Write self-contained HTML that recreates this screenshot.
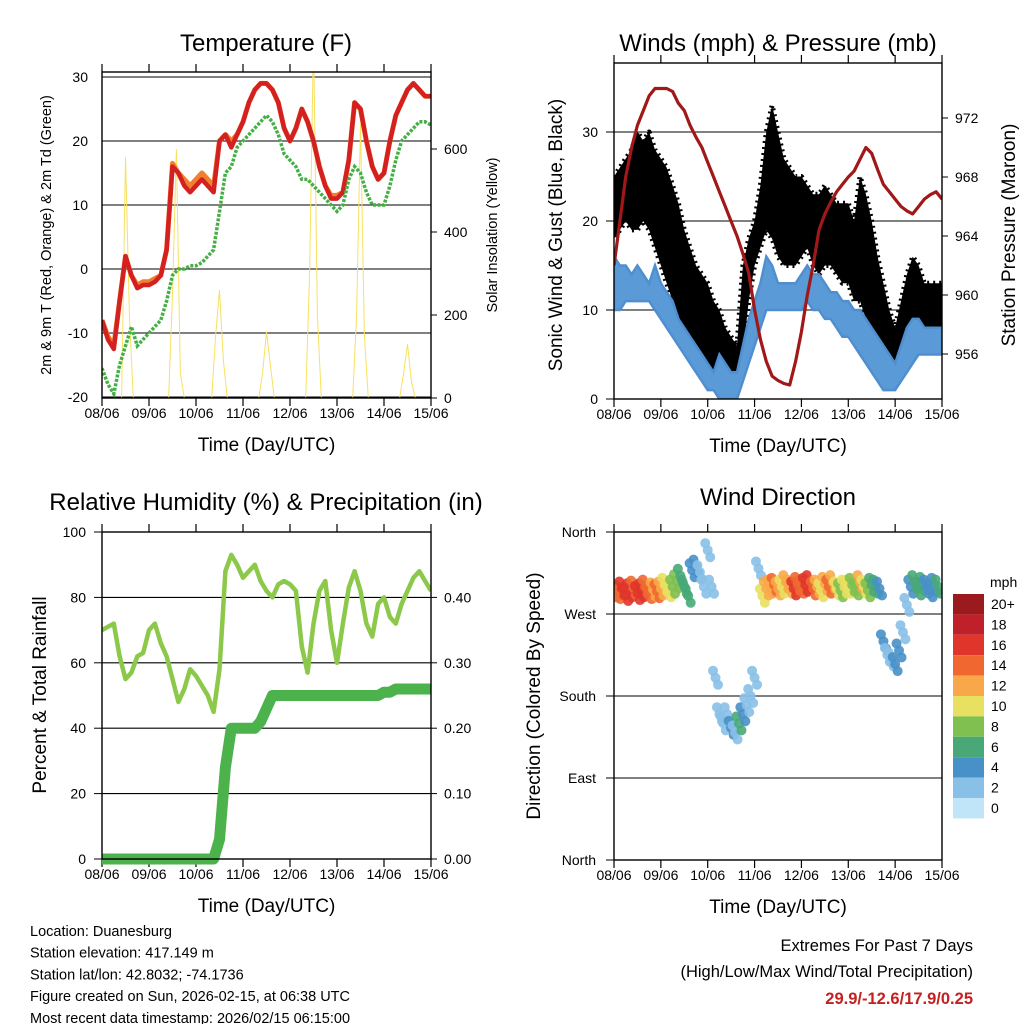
<!DOCTYPE html>
<html><head><meta charset="utf-8">
<style>
html,body{margin:0;padding:0;background:#fff;}
svg{display:block;font-family:"Liberation Sans",Arial,sans-serif;}
</style></head>
<body>
<svg id="c" width="1024" height="1024" viewBox="0 0 1024 1024" xmlns="http://www.w3.org/2000/svg">
<rect width="1024" height="1024" fill="#fff"/>
</svg>
<script>
// ---------- data (3-hour steps unless noted, hour 0 = 08/06 00UTC) ----------
const dayLabels = ["08/06","09/06","10/06","11/06","12/06","13/06","14/06","15/06"];
const tempRed = [-8,-11,-12.5,-5,2,-1,-3,-2.5, -2.5,-2,-1,3,16,15,13,12, 13,14,13,12,20,21,19,21, 23,26,28,29,29,28,26,22, 20,22,25,23,20,16,13,11, 11,12,17,26,25,20,16,14, 15,20,24,26,28,29,28,27, 27];
const tempOrange = [-8,-10.5,-12,-5,2,-1,-2.5,-2, -2,-1.5,-1,3,16.5,15,14,13, 14,15,14,13,20,21,20,21, 23,26,28,29,29,28,26,22, 20,22,25,23,20,16,13,11.5, 11.5,12,17,26,25,20,16,14, 15,20,24,26,28,29,28,27, 27];
const dewGreen = [-15.5,-18,-19.5,-15,-12,-9,-12,-11, -10,-9,-8,-5,-1,0,0,0.5, 0.5,1,2,3,9,15,16,19, 20,21,22,23,24,23,21,18, 17,16,14,14,13,12,11,10, 9,10,14,16,15,12,10,10, 10,13,17,20,21,22,23,23, 22.5];
// solar insolation, 2-hour steps
const solar = [0,0,0,0,0,0,580,200,0,0,0,0, 0,0,0,0,0,0,250,600,60,0,0,0, 0,0,0,0,0,150,260,90,0,0,0,0, 0,0,0,0,0,60,160,80,0,0,0,0, 0,0,0,0,0,300,870,200,0,0,0,0, 0,0,0,0,0,200,660,150,0,0,0,0, 0,0,0,0,0,60,130,40,0,0,0,0, 0];
const gustHi = [25,26,27,28,30,29,30,28, 27,26,24,22,19,17,15,14, 13,11,10,8,7,6,15,18, 20,24,30,33,30,27,26,25, 25,24,23,23,24,23,22,22, 22,20,25,23,20,16,13,10, 8,11,14,16,15,13,13,13, 13];
const gustLo = [18,19,20,19,19,20,19,17, 15,13,11,9,7,6,4,3, 2,1,1,1,1,2,5,11, 15,17,19,18,16,15,15,15, 16,17,15,14,15,15,14,13, 13,11,11,9,7,5,3,3, 4,6,7,8,8,7,7,7, 7];
const windHi = [16,15,15,14,15,14,13,15, 13,12,11,9,8,7,6,5, 4,3,5,4,3,3,6,9, 11,13,16,15,13,13,13,13, 14,15,14,14,13,12,12,11, 11,10,10,9,8,7,6,5, 4,6,8,9,9,8,8,8, 8];
const windLo = [10,10,11,11,11,11,11,10, 9,8,7,6,5,4,3,2, 1,1,0,0,0,0,2,4, 6,8,10,10,10,10,10,10, 10,11,10,10,9,9,8,7, 7,6,5,4,3,2,1,1, 1,2,3,4,5,5,5,5, 5];
const pressure = [962,965,968,970,971.5,972.5,973.5,974, 974,974,973.8,973,972.5,971.5,970.7,970, 969,968,967,966,965,964,962.8,961.5, 959,957,955.5,954.5,954.2,954,953.9,955.5, 957.5,960,962,964.4,965.5,966.3,967,967.5, 968,968.4,969.2,970,969.6,968.5,967.5,967, 966.5,966,965.7,965.5,966,966.5,966.8,967, 966.5];
const rh = [70,71,72,62,55,57,62,63, 70,72,66,62,55,48,52,58, 56,53,50,45,58,88,93,90, 86,88,90,85,82,80,84,85, 84,82,65,57,72,82,85,70, 60,72,83,88,82,72,68,78, 80,74,72,78,82,86,88,85, 82];
const precip = [0,0,0,0,0,0,0,0, 0,0,0,0,0,0,0,0, 0,0,0,0,0.03,0.14,0.2,0.2, 0.2,0.2,0.2,0.21,0.23,0.25,0.25,0.25, 0.25,0.25,0.25,0.25,0.25,0.25,0.25,0.25, 0.25,0.25,0.25,0.25,0.25,0.25,0.25,0.25, 0.255,0.255,0.26,0.26,0.26,0.26,0.26,0.26, 0.26];
// wind direction, 2-hour steps (degrees, 0/360 north) and speed (mph)
const dirDeg = [296,294,298,292,296,299,293,296,300,294,297,295, 298,302,296,300,306,312,300,290,318,322,316,300, 340,300,200,160,150,160,145,140,150,160,170,180, 200,320,290,298,300,302,298,300,305,300,298,303, 300,302,305,298,300,296,303,300,305,298,296,300, 300,302,298,305,300,296,302,300,298,240,225,220, 215,230,250,280,300,305,298,303,300,296,302,300];
const dirSpeed = [14,15,16,17,16,15,16,17,15,14,13,14, 12,11,10,9,8,7,6,6,5,4,3,3, 2,2,2,3,2,3,4,3,6,5,3,2, 2,3,10,12,13,14,12,11,12,13,16,15, 15,16,17,14,12,11,13,14,12,10,9,11, 10,8,9,12,11,8,7,6,5,4,3,3, 4,4,3,3,5,6,7,6,5,4,5,6];
const cbLabels = ["20+","18","16","14","12","10","8","6","4","2","0"];
const cbColors = ["#9a1a1e","#c0202a","#e0352a","#f06830","#f8a848","#e8e060","#80c050","#48a878","#4890c8","#88c0e8","#c0e4f8"];

const svg = document.getElementById('c');
const NS = "http://www.w3.org/2000/svg";
function mk(tag, attrs, parent){ const e=document.createElementNS(NS,tag); for(const k in attrs) e.setAttribute(k,attrs[k]); (parent||svg).appendChild(e); return e; }
function txt(x,y,s,size,anchor,parent,rot){ const t=mk('text',{x:x,y:y,'font-size':size,'text-anchor':anchor||'middle',fill:'#000'},parent); if(rot) t.setAttribute('transform','rotate(-90 '+x+' '+y+')'); t.textContent=s; return t; }
function lin(a,b,c,d){ return v => c+(v-a)*(d-c)/(b-a); }
function colorFor(s){ const i=Math.min(10,Math.floor(s/2)); return cbColors[10-i]; }

function xAxis(g,L,R,B,T,title){
  const xs = lin(0,168,L,R);
  dayLabels.forEach((d,i)=>{
    const x=xs(i*24);
    const tk=mk('line',{x1:x,x2:x,y1:B,y2:B+8,stroke:'#000','stroke-width':1.2},g);
     
    mk('line',{x1:x,x2:x,y1:T-8,y2:T,stroke:'#000','stroke-width':1.2},g);
    const t=txt(x,B+20,d,14,'middle',g);
     
  });
  const t=txt((L+R)/2,B+53,title,19,'middle',g);
   
  return xs;
}
function grid(g,L,R,y){ mk('line',{x1:L,x2:R,y1:y,y2:y,stroke:'#000','stroke-width':1.1},g); }
function pathFrom(vals,step,xs,ys){ return vals.map((v,i)=>(i?'L':'M')+xs(i*step).toFixed(1)+' '+ys(v).toFixed(1)).join(' '); }
function bandFrom(lo,hi,step,xs,ys){
  let d=hi.map((v,i)=>(i?'L':'M')+xs(i*step).toFixed(1)+' '+ys(v).toFixed(1)).join(' ');
  for(let i=lo.length-1;i>=0;i--) d+='L'+xs(i*step).toFixed(1)+' '+ys(lo[i]).toFixed(1);
  return d+'Z';
}
function clip(id,L,T,R,B){ const d=mk('defs',{}); const cp=mk('clipPath',{id:id},d); mk('rect',{x:L,y:T,width:R-L,height:B-T},cp); }

// ---------- Panel 1: Temperature ----------
(function(){
  const L=102,R=431,T=72,B=398;
  const g=mk('g',{});  
  clip('c1',L,T,R,B);
  const t=txt(266,51,'Temperature (F)',24,'middle',g);  
  const ys=lin(-20,30,397,77), ysol=lin(0,200,398,315);
  const xs=xAxis(g,L,R,B,T,'Time (Day/UTC)');
  [30,20,10,0,-10,-20].forEach(v=>{ grid(g,L,R,ys(v)); const l=txt(L-14,ys(v)+5,String(v),14,'end',g);   });
  [0,200,400,600].forEach(v=>{ mk('line',{x1:R,x2:R+6,y1:ysol(v),y2:ysol(v),stroke:'#000'},g); const l=txt(R+13,ysol(v)+5,String(v),14,'start',g);   });
  const a=txt(51,235,'2m & 9m T (Red, Orange) & 2m Td (Green)',14.5,'middle',g,true);  
  const b=txt(497,235,'Solar Insolation (Yellow)',14.5,'middle',g,true);  
  const cg=mk('g',{'clip-path':'url(#c1)'},g);
  const s=mk('path',{d:pathFrom(solar,2,xs,ysol),fill:'none',stroke:'#f8e060','stroke-width':1},cg);  
  const o=mk('path',{d:pathFrom(tempOrange,3,xs,ys),fill:'none',stroke:'#f08030','stroke-width':5,'stroke-linejoin':'round'},cg);  
  const r=mk('path',{d:pathFrom(tempRed,3,xs,ys),fill:'none',stroke:'#d42020','stroke-width':4.5,'stroke-linejoin':'round'},cg);  
  const gr=mk('path',{d:pathFrom(dewGreen,3,xs,ys),fill:'none',stroke:'#44b044','stroke-width':3.5,'stroke-dasharray':'3 1.5'},cg);  
  mk('rect',{x:L,y:T,width:R-L,height:B-T,fill:'none',stroke:'#000','stroke-width':1.4},g);
})();

// ---------- Panel 2: Winds & Pressure ----------
(function(){
  const L=614,R=942,T=63,B=399;
  const g=mk('g',{});  
  clip('c2',L,T,R,B);
  const t=txt(778,51,'Winds (mph) & Pressure (mb)',24,'middle',g);  
  const ys=lin(0,10,399,310), yp=lin(956,960,354,295);
  const xs=xAxis(g,L,R,B,T,'Time (Day/UTC)');
  [0,10,20,30].forEach(v=>{ if(v) grid(g,L,R,ys(v)); mk('line',{x1:L-8,x2:L,y1:ys(v),y2:ys(v),stroke:'#000'},g); const l=txt(L-16,ys(v)+5,String(v),14,'end',g);   });
  [956,960,964,968,972].forEach(v=>{ mk('line',{x1:R,x2:R+6,y1:yp(v),y2:yp(v),stroke:'#000'},g); const l=txt(R+13,yp(v)+5,String(v),14,'start',g);   });
  const a=txt(562,235,'Sonic Wind & Gust (Blue, Black)',19,'middle',g,true);  
  const b=txt(1015,235,'Station Pressure (Maroon)',19,'middle',g,true);  
  const cg=mk('g',{'clip-path':'url(#c2)'},g);
  const gb=mk('path',{d:bandFrom(gustLo,gustHi,3,xs,ys),fill:'#000',stroke:'#000','stroke-width':5,'stroke-dasharray':'2 4','stroke-linejoin':'round'},cg);  
  const wb=mk('path',{d:bandFrom(windLo,windHi,3,xs,ys),fill:'#5a9ad6',stroke:'#4f8fd0','stroke-width':2.5},cg);  
  const p=mk('path',{d:pathFrom(pressure,3,xs,yp),fill:'none',stroke:'#a01818','stroke-width':3.2,'stroke-linejoin':'round'},cg);  
  mk('rect',{x:L,y:T,width:R-L,height:B-T,fill:'none',stroke:'#000','stroke-width':1.4},g);
})();

// ---------- Panel 3: RH & Precip ----------
(function(){
  const L=102,R=431,T=532,B=859;
  const g=mk('g',{});  
  clip('c3',L,T-6,R,B+6);
  const t=txt(266,510,'Relative Humidity (%) & Precipitation (in)',24,'middle',g);  
  const ys=lin(0,100,859,532), yr=lin(0,0.1,859,793.6);
  const xs=xAxis(g,L,R,B,T,'Time (Day/UTC)');
  [0,20,40,60,80,100].forEach(v=>{ if(v>0&&v<100) grid(g,L,R,ys(v)); mk('line',{x1:L-8,x2:L,y1:ys(v),y2:ys(v),stroke:'#000'},g); const l=txt(L-16,ys(v)+5,String(v),14,'end',g);   });
  [0,0.1,0.2,0.3,0.4].forEach(v=>{ mk('line',{x1:R,x2:R+6,y1:yr(v),y2:yr(v),stroke:'#000'},g); const l=txt(R+13,yr(v)+5,v.toFixed(2),14,'start',g);   });
  const a=txt(46,695,'Percent & Total Rainfall',19,'middle',g,true);  
  const cg=mk('g',{'clip-path':'url(#c3)'},g);
  const r=mk('path',{d:pathFrom(rh,3,xs,ys),fill:'none',stroke:'#8cc84a','stroke-width':4.5,'stroke-linejoin':'round'},cg);  
  const p=mk('path',{d:pathFrom(precip,3,xs,yr),fill:'none',stroke:'#4cb24c','stroke-width':11,'stroke-linejoin':'round','stroke-linecap':'round'},cg);  
  mk('rect',{x:L,y:T,width:R-L,height:B-T,fill:'none',stroke:'#000','stroke-width':1.4},g);
})();

// ---------- Panel 4: Wind direction ----------
(function(){
  const L=614,R=942,T=532,B=860;
  const g=mk('g',{});  
  clip('c4',L,T,R,B);
  const t=txt(778,505,'Wind Direction',24,'middle',g);  
  const ys=lin(0,360,860,532);
  const xs=xAxis(g,L,R,B,T,'Time (Day/UTC)');
  const names=['North','East','South','West','North'];
  [0,90,180,270,360].forEach((v,i)=>{ if(v>0&&v<360) grid(g,L,R,ys(v)); mk('line',{x1:L-8,x2:L,y1:ys(v),y2:ys(v),stroke:'#000'},g); const l=txt(L-18,ys(v)+5,names[i],14,'end',g);   });
  const a=txt(540,696,'Direction (Colored By Speed)',19,'middle',g,true);  
  const cg=mk('g',{'clip-path':'url(#c4)'},g);
  const offs=[[0,0],[-2.5,-7],[2.5,7]];
  dirDeg.forEach((d,i)=>{
    offs.forEach(o=>{
      const c=mk('circle',{cx:xs(i*2)+o[0],cy:ys(d)+o[1],r:5,fill:colorFor(dirSpeed[i]),'fill-opacity':0.9},cg);
      
      
    });
  });
  mk('rect',{x:L,y:T,width:R-L,height:B-T,fill:'none',stroke:'#000','stroke-width':1.4},g);
  // colorbar
  const cb=mk('g',{});  
  const l0=txt(990,587,'mph',14,'start',cb);  
  cbLabels.forEach((s,i)=>{
    const y=594+i*20.4;
    const r=mk('rect',{x:953,y:y,width:31,height:20.4,fill:cbColors[i]},cb);
     
    const l=txt(991,y+15,s,14,'start',cb);  
  });
})();

// ---------- footer ----------
(function(){
  const g=mk('g',{});  
  ['Location: Duanesburg','Station elevation: 417.149 m','Station lat/lon: 42.8032; -74.1736','Figure created on Sun, 2026-02-15, at 06:38 UTC','Most recent data timestamp: 2026/02/15 06:15:00'].forEach((s,i)=>{
    const t=txt(30,936+i*21.7,s,14.5,'start',g);  
  });
  const e=mk('g',{});  
  const a=txt(973,951,'Extremes For Past 7 Days',16.5,'end',e);  
  const b=txt(973,977,'(High/Low/Max Wind/Total Precipitation)',16.5,'end',e);  
  const c=txt(973,1004,'29.9/-12.6/17.9/0.25',16.5,'end',e); c.setAttribute('fill','#c42020'); c.setAttribute('font-weight','bold');  
})();
</script>
</body></html>
